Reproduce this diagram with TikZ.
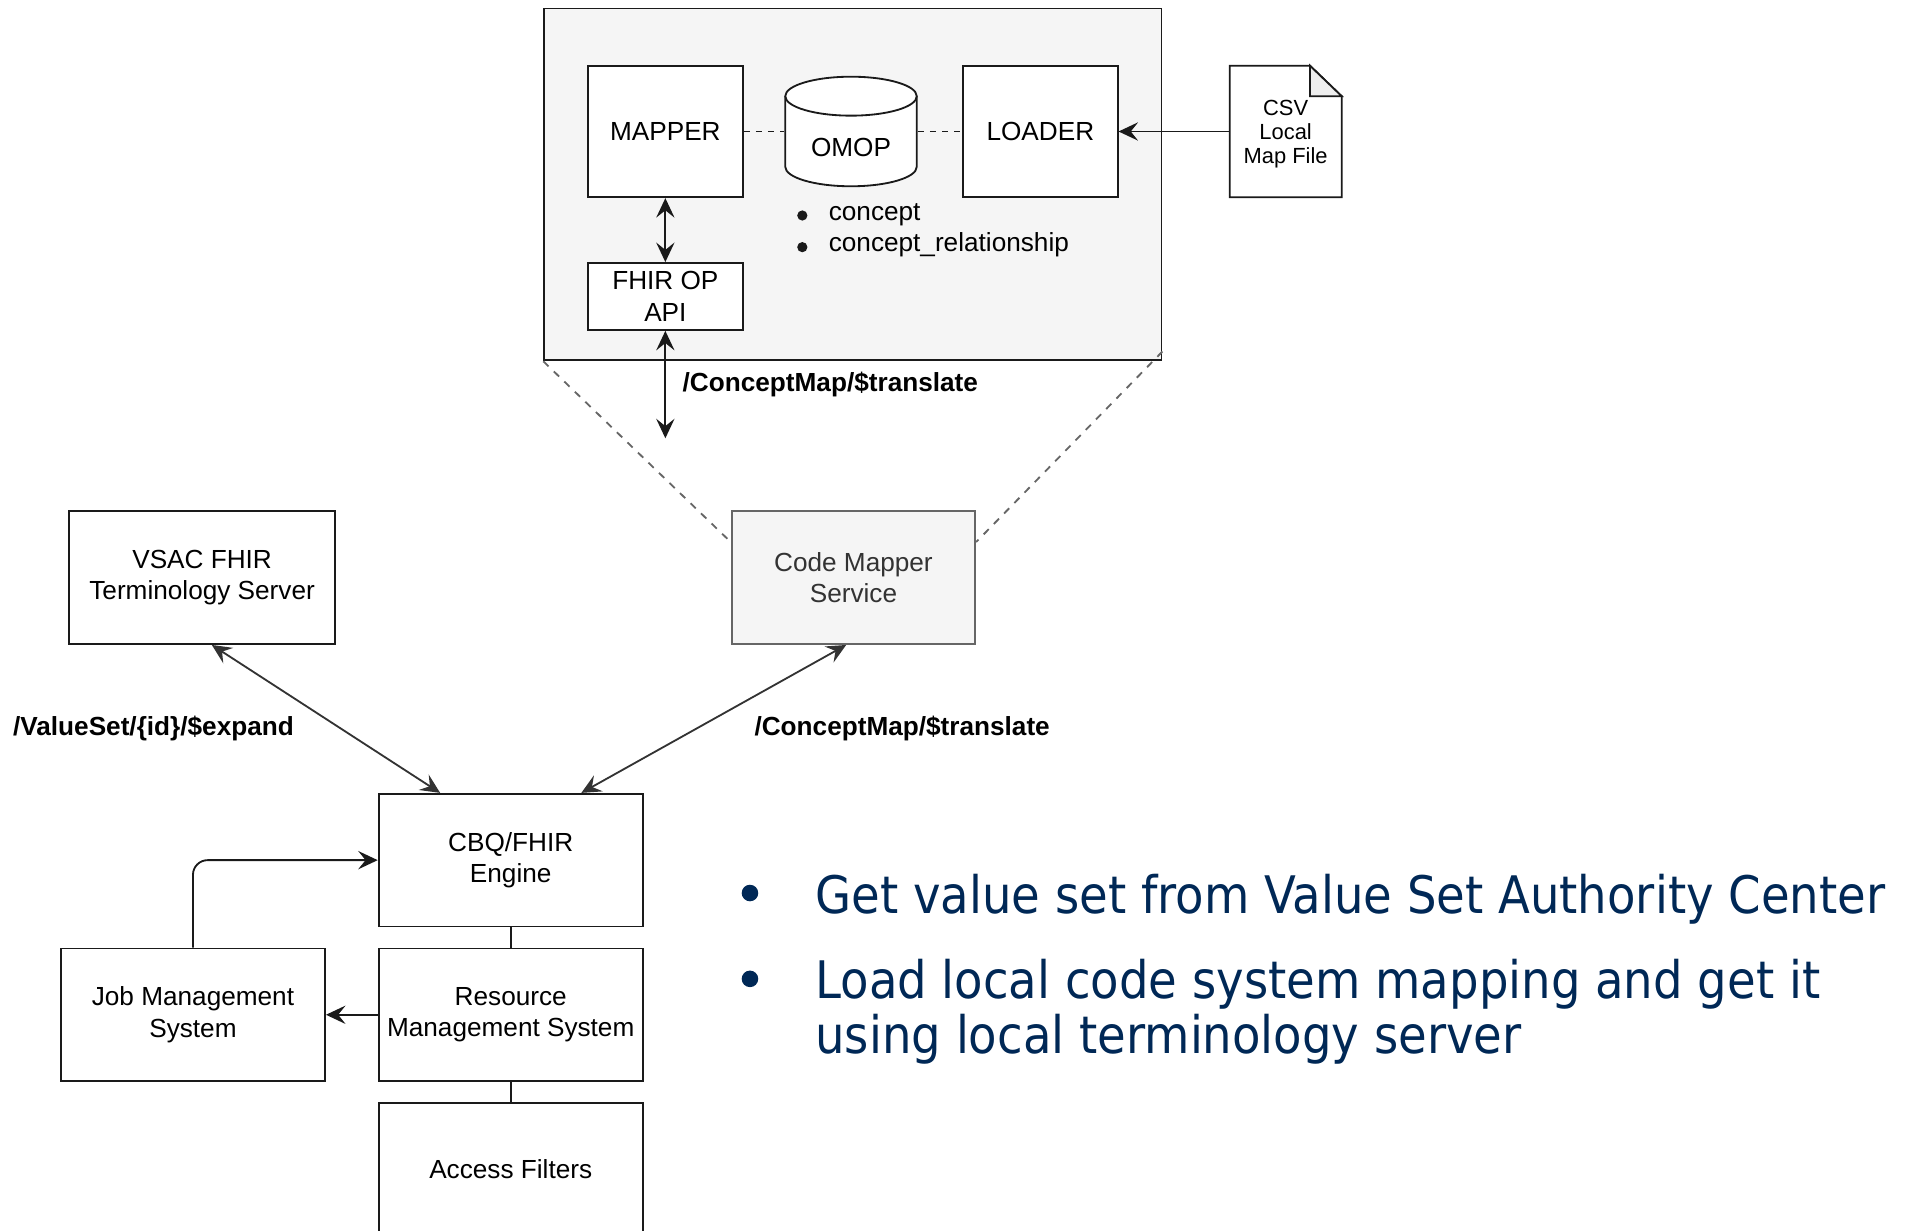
\documentclass[tikz,border=0pt]{standalone}
\usepackage{fontspec}
\setmainfont{Liberation Sans}
\newfontfamily\tahomalike[FakeStretch=0.9]{DejaVu Sans}
\usetikzlibrary{arrows.meta,calc}
\definecolor{boxgray}{HTML}{F5F5F5}
\definecolor{edgegray}{HTML}{666666}
\definecolor{txtgray}{HTML}{333333}
\definecolor{linecol}{HTML}{1A1A1A}
\definecolor{navy}{RGB}{0,40,86}
\definecolor{foldgray}{HTML}{EEEEEE}
\begin{document}
\begin{tikzpicture}[x=0.5pt,y=-0.5pt,
  line width=0.75pt, draw=linecol,
  box/.style={draw=linecol, rectangle, inner sep=0, align=center, fill=white,
    font=\fontsize{10.75}{13}\selectfont},
  tip/.tip={Stealth[length=8pt,width=7.5pt,inset=3pt]},
  arr/.style={-tip},
  arrboth/.style={tip-tip},
  lbl/.style={font=\bfseries\fontsize{10.75}{13}\selectfont, inner sep=0, anchor=west},
  plain/.style={font=\fontsize{10.75}{13}\selectfont, inner sep=0, anchor=west},
  dot/.style={circle, fill=linecol, inner sep=0, minimum size=4.2pt},
  bigdot/.style={circle, fill=navy, inner sep=0, minimum size=6.8pt},
  bigtext/.style={anchor=base west, inner sep=0, text=navy,
    font=\tahomalike\fontsize{21.25}{22.5}\selectfont},
  linkdash/.style={draw=linecol, dash pattern=on 2.5pt off 2.5pt},
  zoomdash/.style={draw=edgegray, dash pattern=on 3pt off 3pt}
]
\useasboundingbox (0,0) rectangle (1568,1011);
\clip (0,0) rectangle (1568,1011);

% outer container
\node[draw=linecol, fill=boxgray, minimum width=253.5pt, minimum height=144.5pt, inner sep=0] (outer) at (700.5,151.5) {};

% boxes inside
\node[box, minimum width=63.5pt, minimum height=54pt] (mapper) at (546.5,108) {MAPPER};
\node[box, minimum width=63.5pt, minimum height=54pt] (loader) at (854.5,108) {LOADER};
\node[box, minimum width=63.5pt, minimum height=27.5pt] (fhir) at (546.5,243.5) {FHIR OP\\API};

% OMOP cylinder
\draw[fill=white] (645,79) -- (645,137) arc[start angle=180, end angle=360, x radius=27pt, y radius=8pt] -- (753,79);
\draw[fill=white] (699,79) ellipse[x radius=27pt, y radius=8pt];
\node[minimum width=54pt, minimum height=45pt, inner sep=0] (omop) at (699,108) {};
\node[font=\fontsize{10.75}{13}\selectfont, inner sep=0] (omoptxt) at (699,121) {OMOP};

% bullets inside container
\node[dot] (d1) at (659,177) {};
\node[dot] (d2) at (659,203) {};
\node[plain] (c1) at (680,176) {concept};
\node[plain] (c2) at (680,201) {concept\_relationship};

% CSV document
\draw[fill=white] (1010,54) -- (1076,54) -- (1102,79) -- (1102,162) -- (1010,162) -- cycle;
\draw[fill=foldgray] (1076,54) -- (1076,79) -- (1102,79) -- cycle;
\node[minimum width=46pt, minimum height=54pt, inner sep=0, align=center,
  font=\fontsize{9}{9.75}\selectfont] (csv) at (1056,110) {CSV\\Local\\Map File};

% connectors in container
\draw[linkdash] (mapper) -- (omop);
\draw[linkdash] (omop) -- (loader);
\draw[arr] (csv.west |- loader.east) -- (loader.east);
\draw[arrboth] (mapper) -- (fhir);
\coordinate (apiend) at (546.5,360);
\draw[arrboth] (fhir) -- (apiend);
\node[lbl] (l1) at (560,316) {/ConceptMap/\$translate};

% lower boxes
\node[box, fill=boxgray, draw=edgegray, text=txtgray, minimum width=100pt, minimum height=54.5pt] (cmap) at (701,474.5) {Code Mapper\\Service};
\node[box, minimum width=109pt, minimum height=54.5pt] (vsac) at (166,474.5) {VSAC FHIR\\Terminology Server};
\node[box, minimum width=108.5pt, minimum height=54.5pt] (cbq) at (419.5,706.5) {CBQ/FHIR\\Engine};
\node[box, minimum width=108.5pt, minimum height=54.5pt] (res) at (419.5,833.5) {Resource\\Management System};
\node[box, minimum width=108.5pt, minimum height=54.5pt] (access) at (419.5,960.5) {Access Filters};
\node[box, minimum width=108.5pt, minimum height=54.5pt] (job) at (158.5,833.5) {Job Management\\System};

% zoom lines
\draw[zoomdash] (outer.south west) -- ([yshift=-13pt]cmap.north west);
\draw[zoomdash] ([yshift=4pt]outer.south east) -- ([yshift=-13pt]cmap.north east);

% lower connectors
\draw[arrboth, draw=txtgray, fill=txtgray] ([xshift=4pt]vsac.south) -- ([xshift=-29pt]cbq.north);
\draw[arrboth, draw=txtgray, fill=txtgray] ([xshift=-3pt]cmap.south) -- ([xshift=29pt]cbq.north);
\node[lbl] (l2) at (10,598) {/ValueSet/\{id\}/\$expand};
\node[lbl] (l3) at (619,598) {/ConceptMap/\$translate};
\draw (cbq) -- (res);
\draw (res) -- (access);
\draw[arr] (res) -- (job);
\draw[arr, rounded corners=6pt] (job.north) |- (cbq.west);

% right-hand text
\node[bigdot] (b1) at (616,733.5) {};
\node[bigtext] (t1) at (669,750) {Get value set from Value Set Authority Center};
\node[bigdot] (b2) at (616,804) {};
\node[bigtext] (t2) at (669,820) {Load local code system mapping and get it};
\node[bigtext] (t3) at (669,865) {using local terminology server};
\end{tikzpicture}
\end{document}
